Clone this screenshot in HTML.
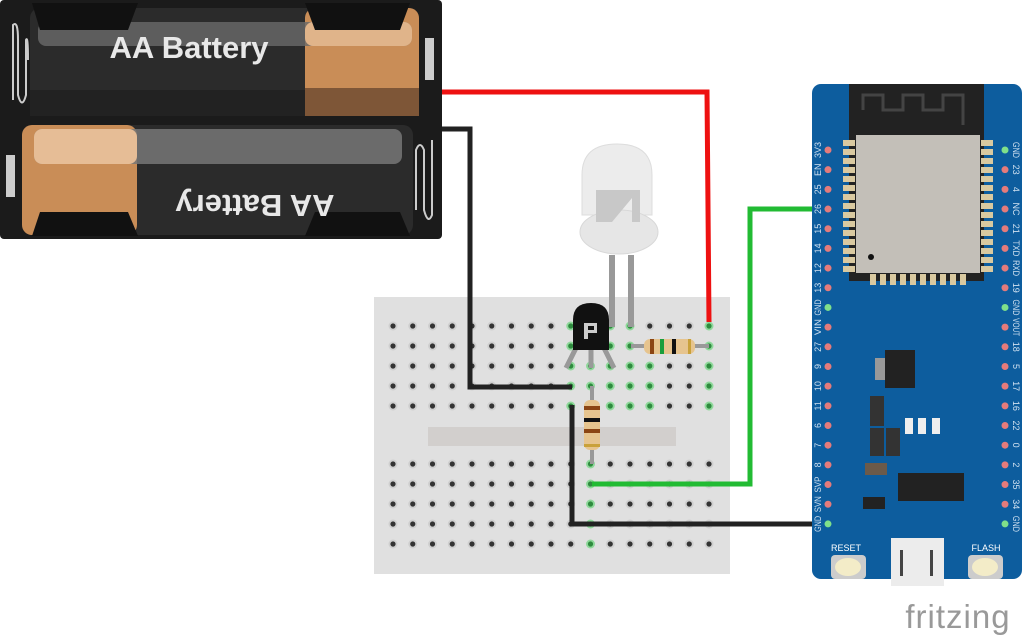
<!DOCTYPE html>
<html><head><meta charset="utf-8"><style>
html,body{margin:0;padding:0;background:#fff;width:1024px;height:638px;overflow:hidden}
svg{display:block}
</style></head><body>
<svg id="s" width="1024" height="638" viewBox="0 0 1024 638" xmlns="http://www.w3.org/2000/svg" font-family="Liberation Sans, sans-serif">
<!-- battery holder -->
<rect x="0" y="0" width="442" height="239" rx="4" fill="#1b1b1b"/>
<rect x="30" y="8" width="389" height="108" rx="10" fill="#2b2b2b"/>
<rect x="305" y="8" width="114" height="108" rx="10" fill="#c98d57"/>
<rect x="305" y="88" width="114" height="28" fill="#7e5637"/>
<rect x="38" y="22" width="374" height="24" rx="8" fill="#6a6a6a" opacity="0.8"/>
<rect x="305" y="22" width="107" height="24" rx="8" fill="#e0b48a"/>
<rect x="30" y="90" width="275" height="26" fill="#222"/>
<path d="M32 3 H138 L128 30 H40 Z" fill="#111"/>
<path d="M305 3 H410 L400 30 H315 Z" fill="#111"/>
<text x="189" y="58" font-size="31" font-weight="bold" fill="#e8e8e8" text-anchor="middle">AA Battery</text>
<rect x="22" y="125" width="391" height="110" rx="10" fill="#2b2b2b"/>
<rect x="22" y="125" width="115" height="110" rx="10" fill="#c98d57"/>
<rect x="34" y="129" width="368" height="35" rx="8" fill="#777" opacity="0.85"/>
<rect x="34" y="129" width="103" height="35" rx="8" fill="#e6bd96"/>
<path d="M32 236 H138 L128 212 H40 Z" fill="#111"/>
<path d="M305 236 H410 L400 212 H315 Z" fill="#111"/>
<text x="255" y="173" font-size="31" font-weight="bold" fill="#e8e8e8" text-anchor="middle" transform="rotate(180 255 184)">AA Battery</text>
<path d="M13 100 V25 Q18 20 18 40 V95 Q22 110 26 95 V40 Q28 35 28 60" stroke="#ccc" stroke-width="2" fill="none"/>
<rect x="6" y="155" width="9" height="42" fill="#ccc"/>
<rect x="425" y="38" width="9" height="42" fill="#ccc"/>
<path d="M432 140 V215 Q428 225 424 210 V150 Q420 140 416 150 V210" stroke="#ccc" stroke-width="2" fill="none"/>
<!-- breadboard -->
<rect x="374" y="297" width="356" height="277" fill="#e0e0e0"/>
<rect x="428" y="427" width="248" height="19" fill="#d2cfcd"/>
<g id="holes"></g>
<!-- LED -->
<rect x="609" y="255" width="6" height="72" fill="#999"/>
<rect x="628" y="255" width="6" height="72" fill="#999"/>
<path d="M582 215 V175 Q582 144 617 144 Q652 144 652 175 V215 Z" fill="#ececec" stroke="#ddd"/>
<ellipse cx="619" cy="232" rx="39" ry="22" fill="#e6e6e6" stroke="#d8d8d8"/>
<path d="M596 190 H640 V222 H632 V198 L612 222 H596 Z" fill="#c8c8c8"/>
<!-- transistor -->
<path d="M576 348 L566 368 M591 348 V368 M604 348 L614 368" stroke="#999" stroke-width="5"/>
<path d="M573 350 V320 Q573 303 591 303 Q609 303 609 320 V350 Z" fill="#111"/>
<rect x="582" y="321" width="18" height="20" fill="#111"/>
<path d="M584 323 H597 V333 H588 V339 H584 Z M588 326 V330 H594 V326 Z" fill="#ccc" fill-rule="evenodd"/>
<!-- resistor horizontal -->
<line x1="631" y1="346" x2="709" y2="346" stroke="#999" stroke-width="4"/>
<rect x="644" y="339" width="51" height="15" rx="6" fill="#e6c48e"/>
<rect x="650" y="339" width="4" height="15" fill="#8b4513"/>
<rect x="660" y="339" width="4" height="15" fill="#1a9e3c"/>
<rect x="672" y="339" width="4" height="15" fill="#111"/>
<rect x="688" y="339" width="3" height="15" fill="#c9a13a"/>
<!-- resistor vertical -->
<line x1="592" y1="386" x2="592" y2="464" stroke="#999" stroke-width="4"/>
<rect x="584" y="400" width="16" height="50" rx="6" fill="#e6c48e"/>
<rect x="584" y="406" width="16" height="4" fill="#8b4513"/>
<rect x="584" y="418" width="16" height="4" fill="#111"/>
<rect x="584" y="429" width="16" height="4" fill="#8b4513"/>
<rect x="584" y="444" width="16" height="3" fill="#c9a13a"/>
<!-- wires -->
<polyline points="442,92 707,92 709,322" fill="none" stroke="#ee1111" stroke-width="5"/>
<polyline points="442,129 470,129 470,387 572,387" fill="none" stroke="#222" stroke-width="5"/>
<polyline points="572,405 572,524 832,524" fill="none" stroke="#222" stroke-width="5"/>
<polyline points="592,484 750,484 750,209 832,209" fill="none" stroke="#22bb33" stroke-width="5"/>
<!-- ESP32 board -->
<rect x="812" y="84" width="210" height="495" rx="9" fill="#0d5d9e"/>
<rect x="849" y="84" width="135" height="197" fill="#222"/>
<path d="M863 110 V95 H883 V110 H903 V95 H923 V110 H943 V95 H963 V125" stroke="#444" stroke-width="3" fill="none"/>
<rect x="856" y="135" width="124" height="138" fill="#c3bfb8"/>
<circle cx="871" cy="257" r="3" fill="#111"/>
<g id="pins"></g>
<rect x="885" y="350" width="30" height="38" fill="#222"/>
<rect x="875" y="358" width="10" height="22" fill="#999"/>
<rect x="898" y="473" width="66" height="28" fill="#222"/>
<rect x="870" y="396" width="14" height="30" fill="#333"/>
<rect x="870" y="428" width="14" height="28" fill="#333"/>
<rect x="886" y="428" width="14" height="28" fill="#333"/>
<rect x="905" y="418" width="8" height="16" fill="#eee"/>
<rect x="918" y="418" width="8" height="16" fill="#eee"/>
<rect x="932" y="418" width="8" height="16" fill="#eee"/>
<rect x="865" y="463" width="22" height="12" fill="#6b5a4a"/>
<rect x="863" y="497" width="22" height="12" fill="#222"/>
<text x="846" y="551" font-size="9" fill="#fff" text-anchor="middle">RESET</text>
<text x="986" y="551" font-size="9" fill="#fff" text-anchor="middle">FLASH</text>
<rect x="831" y="555" width="35" height="24" rx="4" fill="#ccc"/>
<ellipse cx="848" cy="567" rx="13" ry="9" fill="#f3ecc8"/>
<rect x="968" y="555" width="35" height="24" rx="4" fill="#ccc"/>
<ellipse cx="985" cy="567" rx="13" ry="9" fill="#f3ecc8"/>
<rect x="891" y="538" width="53" height="48" fill="#ececec"/>
<rect x="900" y="550" width="3" height="26" fill="#444"/>
<rect x="930" y="550" width="3" height="26" fill="#444"/>
<text x="958" y="628" font-size="33" fill="#999" text-anchor="middle" letter-spacing="1">fritzing</text>
</svg>
<script>
var NS="http://www.w3.org/2000/svg";
function el(p,t,a){var e=document.createElementNS(NS,t);for(var k in a)e.setAttribute(k,a[k]);p.appendChild(e);return e;}
var H=document.getElementById("holes");
var cols=[];for(var i=0;i<17;i++)cols.push(393+i*19.75);
var rowsT=[326,346,366,386,406],rowsB=[464,484,504,524,544];
function green(ci,top,ri){ if(top){return ci==9||ci==10&&ri>=2||ci==11||ci==12||ci==16||(ci==13&&ri>=2);} return ci==10;}
[rowsT,rowsB].forEach(function(rows,bi){rows.forEach(function(y,ri){cols.forEach(function(x,ci){
 var g=green(ci,bi==0,ri);
 el(H,"circle",{cx:x,cy:y,r:4.5,fill:g?"#8fd89a":"#cfcfcf"});
 el(H,"circle",{cx:x,cy:y,r:2.6,fill:g?"#2e8b3e":"#333"});
});});});
var P=document.getElementById("pins");
var L=["3V3","EN","25","26","15","14","12","13","GND","VIN","27","9","10","11","6","7","8","SVP","SVN","GND"];
var R=["GND","23","4","NC","21","TXD","RXD","19","GND","VOUT","18","5","17","16","22","0","2","35","34","GND"];
for(var i=0;i<20;i++){var y=150+i*19.68;
 el(P,"circle",{cx:828,cy:y,r:3.5,fill:L[i]=="GND"?"#7fe08a":"#e57b7b"});
 el(P,"circle",{cx:1005,cy:y,r:3.5,fill:R[i]=="GND"?"#7fe08a":"#e57b7b"});
 var a1={x:818,y:y,"font-size":9,fill:"#cfe0f0","text-anchor":"middle",transform:"rotate(-90 818 "+y+")",dy:"3"};
 if(L[i].length>2){a1.textLength=16;a1.lengthAdjust="spacingAndGlyphs";}
 var t=el(P,"text",a1);t.textContent=L[i];
 var a2={x:1016,y:y,"font-size":9,fill:"#cfe0f0","text-anchor":"middle",transform:"rotate(90 1016 "+y+")",dy:"3"};
 if(R[i].length>2){a2.textLength=R[i].length>3?18:16;a2.lengthAdjust="spacingAndGlyphs";}
 var t2=el(P,"text",a2);t2.textContent=R[i];
 if(i<15){el(P,"rect",{x:843,y:140+i*9,width:12,height:6,fill:"#d9c9a0"});el(P,"rect",{x:981,y:140+i*9,width:12,height:6,fill:"#d9c9a0"});}
}
for(var j=0;j<10;j++)el(P,"rect",{x:870+j*10,y:274,width:6,height:11,fill:"#d9c9a0"});
</script>
</body></html>
